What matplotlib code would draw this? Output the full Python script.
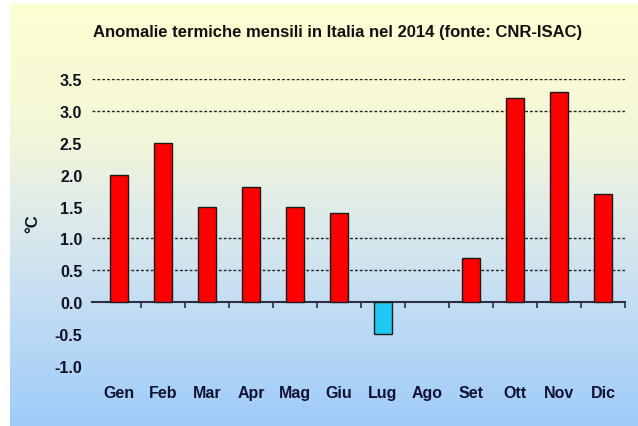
import numpy as np
import matplotlib
matplotlib.use("Agg")
import matplotlib.pyplot as plt
from matplotlib.colors import LinearSegmentedColormap

plt.rcParams['font.family'] = ['Liberation Sans', 'DejaVu Sans']

# data
mesi = ['Gen', 'Feb', 'Mar', 'Apr', 'Mag', 'Giu', 'Lug', 'Ago', 'Set', 'Ott', 'Nov', 'Dic']
anomalie = [2.0, 2.5, 1.5, 1.8, 1.5, 1.4, -0.5, 0.0, 0.7, 3.2, 3.3, 1.7]
y_ticks = [-1.0, -0.5, 0.0, 0.5, 1.0, 1.5, 2.0, 2.5, 3.0, 3.5]
grid_vals = [0.5, 1.0, 3.0, 3.5]
titolo = 'Anomalie termiche mensili in Italia nel 2014 (fonte: CNR-ISAC)'

W, H = 638, 427
fig = plt.figure(figsize=(W / 100, H / 100), dpi=100, facecolor='white')

# gradient background panel
bg = fig.add_axes([10 / W, 0, 1 - 10 / W, 1 - 5 / H])
cmap = LinearSegmentedColormap.from_list('bg', [
    (0.0, '#FEFED2'), (0.3, '#F4F7D8'), (0.5, '#DEEBEA'),
    (0.75, '#BEDBF4'), (1.0, '#9FCBFA')])
grad = np.linspace(0, 1, 256).reshape(-1, 1)
bg.imshow(grad, aspect='auto', cmap=cmap, extent=[0, 1, 0, 1])
bg.axis('off')

ymin, ymax = -1.0, 3.5
ax = fig.add_axes([92 / W, 1 - 367 / H, (625 - 92) / W, (367 - 80) / H])
ax.patch.set_alpha(0)
x = np.arange(len(mesi))
colori = ['#1EC8F2' if v < 0 else '#FF0000' for v in anomalie]
spessori = [0 if v == 0 else 1.0 for v in anomalie]
ax.bar(x, anomalie, width=0.41, color=colori, edgecolor='#1a1a1a', linewidth=spessori, zorder=3)

for g in grid_vals:
    ax.axhline(g, color='#222222', lw=1.0, ls=(0, (2, 1.5)), zorder=1)

ax.set_xlim(-0.61, 11.5)
ax.set_ylim(ymin, ymax)
for s in ax.spines.values():
    s.set_visible(False)

ax.set_yticks(y_ticks)
ax.set_yticklabels(['%.1f' % v for v in y_ticks], fontsize=11.5, fontweight='bold', color='#111122')
ax.tick_params(axis='y', length=0, pad=7)

ax.set_xticks(x)
ax.set_xticklabels(mesi, fontsize=11.5, fontweight='bold', color='#111133')
ax.tick_params(axis='x', length=0, pad=14)

# zero line with category separators
zero = ax.secondary_xaxis((0 - ymin) / (ymax - ymin))
zero.spines['bottom'].set_color('#2a3040')
zero.spines['bottom'].set_linewidth(1.5)
zero.set_xticks(np.arange(len(mesi)) + 0.5)
zero.set_xticklabels([])
zero.tick_params(axis='x', length=4, width=1.2, color='#2a3040', direction='out')

ax.set_ylabel('°C', fontsize=12, fontweight='bold', color='#111122')
ax.yaxis.set_label_coords(-0.098, 0.5)

fig.text(338 / W, 1 - 32 / H, titolo, ha='center', va='center',
         fontsize=12, fontweight='bold', color='#111111')

fig.savefig('out.png', dpi=100, facecolor='white')
